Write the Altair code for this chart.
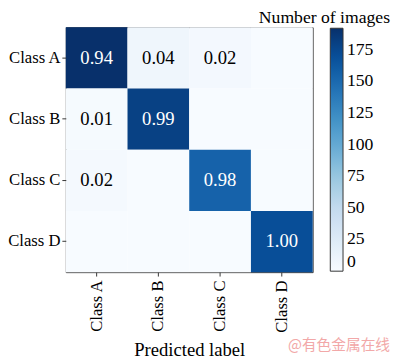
import altair as alt
import pandas as pd

classes = ["Class A", "Class B", "Class C", "Class D"]
# counts[true][predicted]
counts = [
    [192, 8, 4, 0],
    [2, 180, 0, 0],
    [3, 0, 155, 0],
    [0, 0, 0, 170],
]
cbar_ticks = [0, 25, 50, 75, 100, 125, 150, 175]
cbar_max = 192
blues = ["#f7fbff", "#deebf7", "#c6dbef", "#9ecae1", "#6baed6",
         "#4292c6", "#2171b5", "#08519c", "#08306b"]

rows = []
for i, t in enumerate(classes):
    total = sum(counts[i])
    for j, p in enumerate(classes):
        c = counts[i][j]
        rows.append({"true": t, "pred": p, "count": c,
                     "label": f"{c / total:.2f}" if c > 0 else ""})
df = pd.DataFrame(rows)

FONT = "Liberation Serif"

base = alt.Chart(df).encode(
    x=alt.X("pred:N", sort=classes, title="Predicted label",
            scale=alt.Scale(paddingInner=0, paddingOuter=0),
            axis=alt.Axis(labelAngle=270, labelPadding=4, titlePadding=9)),
    y=alt.Y("true:N", sort=classes, title=None,
            scale=alt.Scale(paddingInner=0, paddingOuter=0),
            axis=alt.Axis(labelPadding=2)),
)

heat = base.mark_rect().encode(
    color=alt.Color("count:Q",
                    scale=alt.Scale(domain=[0, cbar_max], range=blues, interpolate="rgb"),
                    legend=alt.Legend(title=None, orient="none", legendX=270, legendY=1,
                                      direction="vertical", gradientLength=248,
                                      gradientThickness=13, values=cbar_ticks,
                                      labelFont=FONT, labelFontSize=18, labelColor="black",
                                      gradientStrokeColor="#333", gradientStrokeWidth=1,
                                      labelOffset=4))
)

text = base.mark_text(font=FONT, fontSize=19).encode(
    text="label:N",
    color=alt.condition("datum.count > 96", alt.value("white"), alt.value("black")),
)

cbar_title = alt.Chart(pd.DataFrame({"t": ["Number of images"]})).mark_text(
    align="right", baseline="alphabetic", font=FONT, fontSize=18, color="black"
).encode(text="t:N", x=alt.value(331), y=alt.value(-4))

watermark = alt.Chart(pd.DataFrame({"t": ["@有色金属在线"]})).mark_text(
    align="right", baseline="alphabetic", font="Noto Sans CJK SC", fontSize=15,
    color="#f2a8a8"
).encode(text="t:N", x=alt.value(331), y=alt.value(329))

chart = alt.layer(heat, text, cbar_title, watermark).properties(
    width=252, height=250,
    autosize=alt.AutoSizeParams(type="none"),
    padding={"left": 59, "top": 16, "right": 81, "bottom": 85},
).configure_view(stroke="#333", strokeWidth=1).configure_axis(
    labelFont=FONT, labelFontSize=17, labelColor="black",
    tickColor="#333", tickSize=4, domain=False,
    titleFont=FONT, titleFontSize=19, titleColor="black", titleFontWeight="normal",
)

chart.save("out.html", embed_options={"renderer": "svg", "actions": False})
